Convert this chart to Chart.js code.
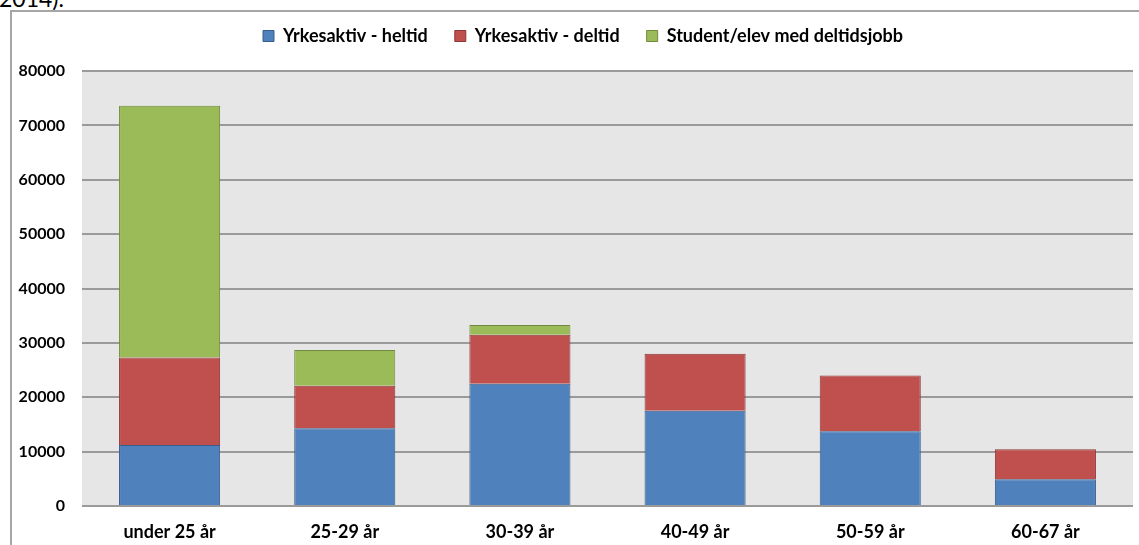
<!DOCTYPE html>
<html>
<head>
<meta charset="utf-8">
<script src="https://cdn.jsdelivr.net/npm/chart.js@4/dist/chart.umd.min.js"></script>
<style>
  html, body { margin: 0; padding: 0; background: #fff; }
  body { width: 1139px; height: 545px; position: relative; overflow: hidden; }
  #cap { position: absolute; left: -1px; top: -16px; font: 23px Lato, "Liberation Sans", sans-serif; color: #000; }
  #frame { position: absolute; left: 10px; top: 10px; width: 1200px; height: 600px;
           border-left: 2px solid #a6a6a6; border-top: 2px solid #a6a6a6; }
  #wrap { position: absolute; left: 0; top: 0; width: 1139px; height: 545px; }
</style>
</head>
<body>
<div id="cap">2014).</div>
<div id="frame"></div>
<div id="wrap"><canvas id="c"></canvas></div>
<script>
const categories = ["under 25 år", "25-29 år", "30-39 år", "40-49 år", "50-59 år", "60-67 år"];
const seriesNames = ["Yrkesaktiv - heltid", "Yrkesaktiv - deltid", "Student/elev med deltidsjobb"];
const heltid  = [11200, 14300, 22500, 17500, 13750, 4900];
const deltid  = [16100, 7800, 9000, 10500, 10250, 5550];
const student = [46300, 6600, 1800, 0, 0, 0];
const yTicks = [0, 10000, 20000, 30000, 40000, 50000, 60000, 70000, 80000];

const fontFam = "Lato, 'Liberation Sans', sans-serif";

const plotBg = {
  id: 'plotBg',
  beforeDraw(chart) {
    const {ctx, chartArea: a} = chart;
    ctx.save();
    ctx.fillStyle = '#e6e6e6';
    ctx.fillRect(a.left, a.top, a.right - a.left, a.bottom - a.top);
    ctx.restore();
  }
};

// Give the legend a fixed block height and start its items where the reference does
const legendTweak = {
  id: 'legendTweak',
  beforeLayout(chart) {
    const lg = chart.legend;
    if (lg && !lg._tweaked) {
      const fit = lg.fit.bind(lg);
      lg.fit = function () { fit(); this.height = 71; };
      const draw = lg.draw.bind(lg);
      lg.draw = function () {
        const l = this.left;
        this.left = 236;
        draw();
        this.left = l;
      };
      lg._tweaked = true;
    }
  }
};

new Chart(document.getElementById('c'), {
  type: 'bar',
  data: {
    labels: categories,
    datasets: [
      { label: seriesNames[0], data: heltid,  backgroundColor: '#4f81bd', borderColor: '#385d8a', borderWidth: 1 },
      { label: seriesNames[1], data: deltid,  backgroundColor: '#c0504d', borderColor: '#8c3836', borderWidth: 1 },
      { label: seriesNames[2], data: student, backgroundColor: '#9bbb59', borderColor: '#71893f', borderWidth: 1 }
    ]
  },
  options: {
    responsive: true,
    maintainAspectRatio: false,
    animation: false,
    layout: { padding: { top: 0, right: 6, bottom: 0, left: 0 } },
    datasets: { bar: { categoryPercentage: 1, barPercentage: 0.577 } },
    plugins: {
      legend: {
        position: 'top',
        align: 'start',
        labels: {
          boxWidth: 11, boxHeight: 11, padding: 27,
          color: '#000',
          font: { family: fontFam, size: 18, weight: 'bold' }
        }
      },
      tooltip: { enabled: false }
    },
    scales: {
      x: {
        stacked: true,
        grid: { display: false, drawTicks: false },
        border: { display: false },
        ticks: { color: '#000', padding: 15, font: { family: fontFam, size: 18, weight: 'bold' } },
        afterFit(s) { s.height = 39; }
      },
      y: {
        stacked: true,
        min: 0, max: 80000,
        afterBuildTicks(s) { s.ticks = yTicks.map(v => ({ value: v })); },
        grid: { color: '#9a9a9a', lineWidth: 2, drawTicks: false },
        border: { display: false },
        ticks: {
          color: '#000', padding: 17,
          font: { family: fontFam, size: 16, weight: 'bold' },
          callback: (v) => String(v)
        },
        afterFit(s) { s.width = 82; }
      }
    }
  },
  plugins: [plotBg, legendTweak]
});
</script>
</body>
</html>
